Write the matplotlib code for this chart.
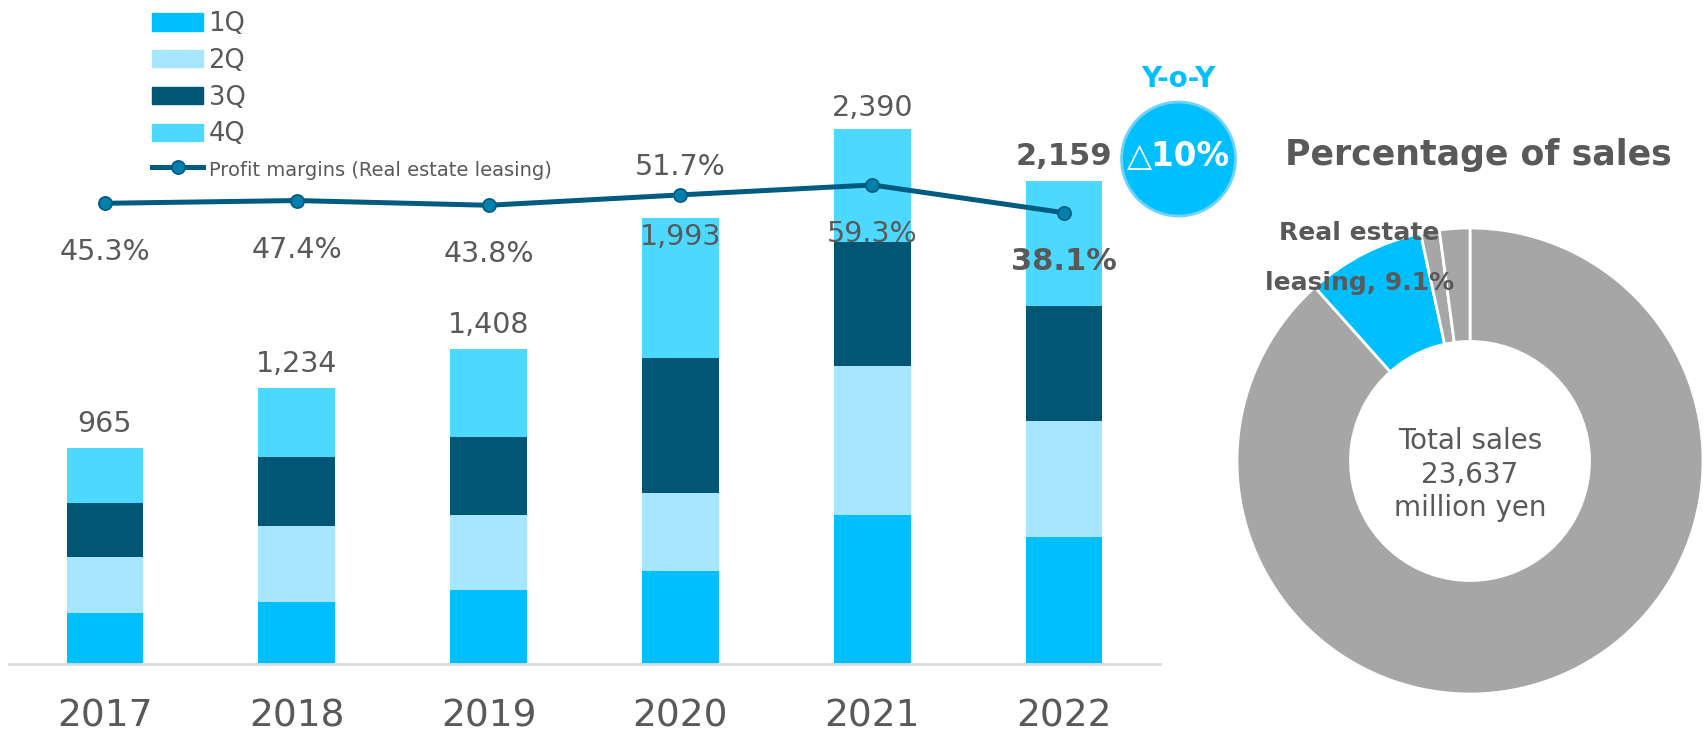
import matplotlib.pyplot as plt
from matplotlib.patches import Patch, Ellipse

# quarterly sales of real estate leasing (million yen)
years = ["2017", "2018", "2019", "2020", "2021", "2022"]
q1 = [230, 278, 329, 414, 667, 566]
q2 = [250, 340, 335, 350, 663, 518]
q3 = [238, 305, 350, 605, 556, 515]
q4 = [247, 311, 394, 624, 504, 560]
totals = [965, 1234, 1408, 1993, 2390, 2159]
margins = [45.3, 47.4, 43.8, 51.7, 59.3, 38.1]

# share of total sales (donut)
share_names = ["Other", "Real estate leasing", "Other A", "Other B"]
share_values = [88.4, 8.2, 1.3, 2.1]
leasing_pct = 9.1
total_sales = "23,637"
yoy_text = "△10%"

W, H = 1706, 734
GRAY = "#595959"
q_colors = ["#00BFFF", "#A7E6FF", "#005673", "#4DD8FF"]
line_color = "#005B80"


def fx(px):
    return px / W


def fy(py):
    return 1 - py / H


fig = plt.figure(figsize=(W / 100, H / 100), dpi=100)
plt.rcParams["font.family"] = ["DejaVu Sans"]

ax = fig.add_axes([fx(9), fy(664), (1160 - 9) / W, 664 / H])
x = list(range(len(years)))
bottom = [0] * len(years)
for vals, col, name in zip([q1, q2, q3, q4], q_colors, ["1Q", "2Q", "3Q", "4Q"]):
    ax.bar(x, vals, width=0.4, bottom=bottom, color=col, label=name)
    bottom = [b0 + v for b0, v in zip(bottom, vals)]

ax.set_xlim(-0.5, 5.5)
ax.set_ylim(0, 2967)
ax.set_xticks(x)
ax.set_xticklabels(years, fontsize=27, color=GRAY)
ax.tick_params(axis="x", length=0, pad=25)
ax.set_yticks([])
for s in ["top", "right", "left"]:
    ax.spines[s].set_visible(False)
ax.spines["bottom"].set_color("#D9D9D9")
ax.spines["bottom"].set_linewidth(2)

for i, t in enumerate(totals):
    dy = 24
    if i == 3:
        dy = -19
    if i == 4:
        dy = 21
    bold = i == len(totals) - 1
    ax.annotate(f"{t:,}", (i, t), xytext=(0, dy), textcoords="offset pixels",
                ha="center", va="center", color=GRAY,
                fontsize=22 if bold else 20.5,
                fontweight="bold" if bold else "normal")

ax2 = ax.twinx()
ax2.set_ylim(-306.4, 200.5)
ln, = ax2.plot(x, margins, color=line_color, lw=3.6, marker="o", ms=9.5,
               mfc="#0080AA", mec=line_color, mew=1.2,
               label="Profit margins (Real estate leasing)")
ax2.set_yticks([])
for s in ax2.spines.values():
    s.set_visible(False)

for i, m in enumerate(margins):
    dy = -49
    if i == 3:
        dy = 28
    bold = i == len(margins) - 1
    ax2.annotate(f"{m}%", (i, m), xytext=(0, dy), textcoords="offset pixels",
                 ha="center", va="center", color=GRAY,
                 fontsize=22 if bold else 20.5,
                 fontweight="bold" if bold else "normal")

handles = [Patch(color=c) for c in q_colors] + [ln]
labels = ["1Q", "2Q", "3Q", "4Q", "Profit margins (Real estate leasing)"]
leg = fig.legend(handles, labels, loc="upper left",
                 bbox_to_anchor=(fx(152), fy(11)), bbox_transform=fig.transFigure,
                 frameon=False, fontsize=18.5, borderpad=0, borderaxespad=0,
                 handlelength=2.0, handleheight=0.66, handletextpad=0.2,
                 labelspacing=0.42, labelcolor=GRAY)
leg.get_texts()[4].set_fontsize(14)

# Y-o-Y bubble
fig.add_artist(Ellipse((fx(1178.5), fy(159)), 114 / W, 114 / H,
                       transform=fig.transFigure, fc="#00BFFF", ec="#6FD3F7", lw=2))
fig.text(fx(1178.5), fy(79), "Y-o-Y", ha="center", va="center",
         fontsize=20, fontweight="bold", color="#00BFFF")
fig.text(fx(1178.5), fy(157), yoy_text, ha="center", va="center",
         fontsize=23.5, fontweight="bold", color="white")

# donut
fig.text(fx(1478), fy(155), "Percentage of sales", ha="center", va="center",
         fontsize=25, fontweight="bold", color=GRAY)

ax3 = fig.add_axes([fx(1237), fy(694), 466 / W, 466 / H])
pie_colors = ["#A6A6A6", "#00BFFF", "#A6A6A6", "#A6A6A6"]
ax3.pie(share_values, colors=pie_colors, startangle=90, counterclock=False,
        radius=1, wedgeprops=dict(width=0.487, edgecolor="white", linewidth=2))
ax3.set_xlim(-1, 1)
ax3.set_ylim(-1, 1)
ax3.set_aspect("equal")
ax3.axis("off")
ax3.text(0, -0.06, f"Total sales\n{total_sales}\nmillion yen", ha="center", va="center",
         fontsize=20, color=GRAY, linespacing=1.25)
ax3.text(-0.476, 0.872, f"Real estate\nleasing, {leasing_pct}%", ha="center", va="center",
         fontsize=18, fontweight="bold", color=GRAY, linespacing=2.4)

fig.savefig("out.png", dpi=100)
